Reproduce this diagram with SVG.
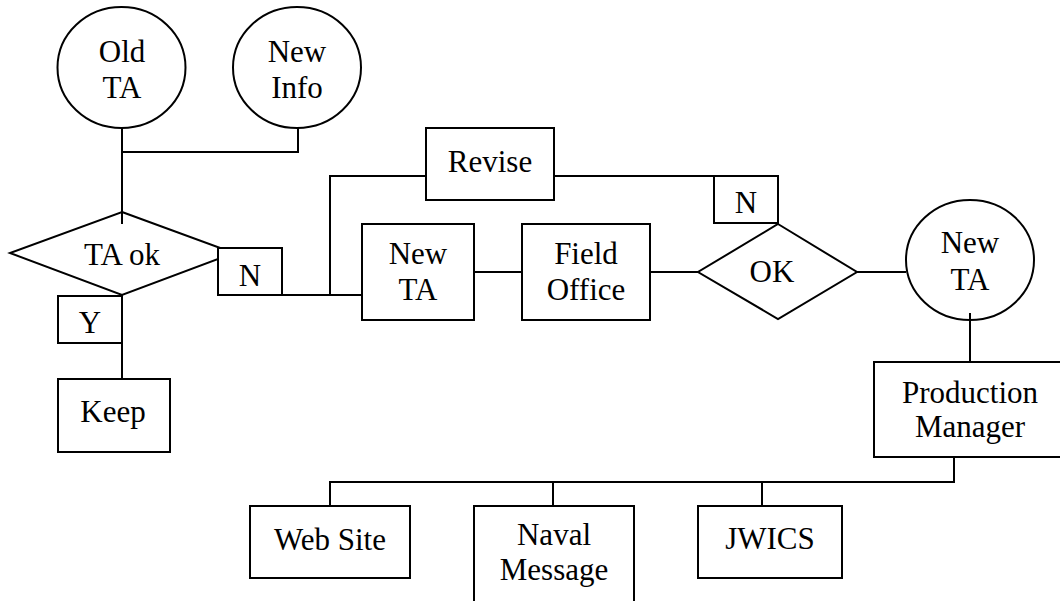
<svg xmlns="http://www.w3.org/2000/svg" width="1060" height="601" viewBox="0 0 1060 601">
<style>
.s{fill:#fff;stroke:#000;stroke-width:2}
.c{fill:none;stroke:#000;stroke-width:2}
.t{font-size:31px;fill:#000;text-anchor:middle}
</style>
<defs>
<clipPath id="pmclip"><rect x="874" y="362" width="164" height="95"/></clipPath>
</defs>
<rect width="1060" height="601" fill="#fff"/>
<g id="connectors">
<path class="c" d="M122,128 V224 M122,152 H298 V128"/>
<path class="c" d="M122,295 V379"/>
<path class="c" d="M218,295 H362 M330,295 V176 H426"/>
<path class="c" d="M554,176 H778 V224"/>
<path class="c" d="M474,272 H522 M650,272 H698 M857,272 H906"/>
<path class="c" d="M970,313 V362"/>
<path class="c" d="M954,457 V482 H330 V506 M553,482 V506 M762,482 V506"/>
</g>
<g font-family="Liberation Serif, serif" class="t">
<g id="old-ta"><ellipse class="s" cx="121.5" cy="67.5" rx="64" ry="60.5" style="fill:none"/><text x="122" y="62">Old</text><text x="122" y="98">TA</text></g>
<g id="new-info"><ellipse class="s" cx="297" cy="67.5" rx="64" ry="60.5" style="fill:none"/><text x="297" y="62">New</text><text x="297" y="98">Info</text></g>
<g id="ta-ok"><polygon class="s" points="122,212 234,253 122,295 10,253" style="fill:none"/><text x="122" y="265">TA ok</text></g>
<g id="n-left"><rect class="s" x="218" y="248" width="64" height="47"/><text x="250" y="286">N</text></g>
<g id="y-label"><rect class="s" x="58" y="296" width="64" height="47"/><text x="90" y="333">Y</text></g>
<g id="keep"><rect class="s" x="58" y="379" width="112" height="73"/><text x="113" y="422">Keep</text></g>
<g id="revise"><rect class="s" x="426" y="128" width="128" height="72"/><text x="490" y="172">Revise</text></g>
<g id="new-ta-box"><rect class="s" x="362" y="224" width="112" height="96"/><text x="418" y="264">New</text><text x="418" y="300">TA</text></g>
<g id="field-office"><rect class="s" x="522" y="224" width="128" height="96"/><text x="586" y="264">Field</text><text x="586" y="300">Office</text></g>
<g id="n-right"><rect class="s" x="714" y="176" width="64" height="47"/><text x="746" y="213">N</text></g>
<g id="ok"><polygon class="s" points="778,224 857,272 778,319 698,272"/><text x="772" y="282">OK</text></g>
<g id="new-ta-circle"><ellipse class="s" cx="970" cy="260" rx="64" ry="60" style="fill:none"/><text x="970" y="253">New</text><text x="970" y="290">TA</text></g>
<g id="production-manager"><rect class="s" x="874" y="362" width="192" height="95"/><text x="970" y="403" clip-path="url(#pmclip)">Production</text><text x="970" y="437">Manager</text></g>
<g id="web-site"><rect class="s" x="250" y="506" width="160" height="72"/><text x="330" y="550">Web Site</text></g>
<g id="naval-message"><rect class="s" x="474" y="506" width="160" height="110"/><text x="554" y="545">Naval</text><text x="554" y="580">Message</text></g>
<g id="jwics"><rect class="s" x="698" y="506" width="144" height="72"/><text x="770" y="549">JWICS</text></g>
</g>
</svg>
